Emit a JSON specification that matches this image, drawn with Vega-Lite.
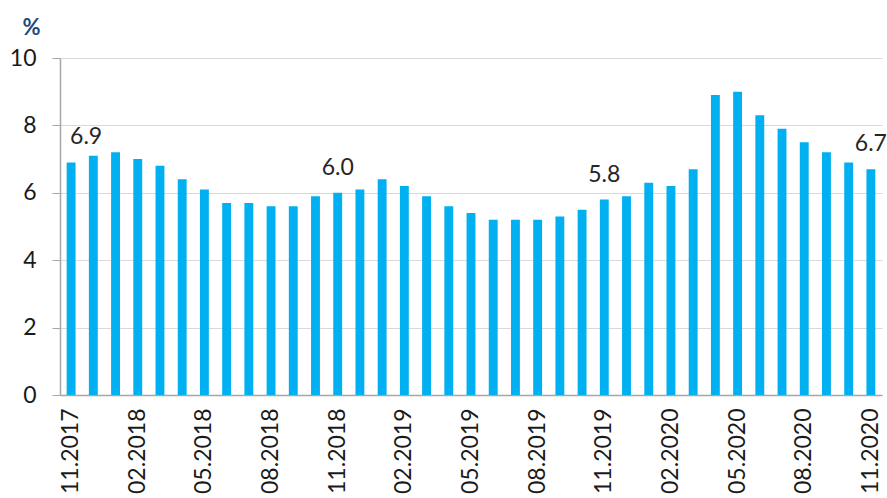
{
  "$schema": "https://vega.github.io/schema/vega-lite/v6.json",
  "autosize": {"type": "none"},
  "width": 822,
  "height": 337,
  "padding": {"left": 60, "top": 58, "right": 5, "bottom": 103},
  "background": "white",
  "config": {"view": {"stroke": null}, "font": "Lato"},
  "data": {
    "values": [
      {"month": "11.2017", "value": 6.9},
      {"month": "12.2017", "value": 7.1},
      {"month": "01.2018", "value": 7.2},
      {"month": "02.2018", "value": 7.0},
      {"month": "03.2018", "value": 6.8},
      {"month": "04.2018", "value": 6.4},
      {"month": "05.2018", "value": 6.1},
      {"month": "06.2018", "value": 5.7},
      {"month": "07.2018", "value": 5.7},
      {"month": "08.2018", "value": 5.6},
      {"month": "09.2018", "value": 5.6},
      {"month": "10.2018", "value": 5.9},
      {"month": "11.2018", "value": 6.0},
      {"month": "12.2018", "value": 6.1},
      {"month": "01.2019", "value": 6.4},
      {"month": "02.2019", "value": 6.2},
      {"month": "03.2019", "value": 5.9},
      {"month": "04.2019", "value": 5.6},
      {"month": "05.2019", "value": 5.4},
      {"month": "06.2019", "value": 5.2},
      {"month": "07.2019", "value": 5.2},
      {"month": "08.2019", "value": 5.2},
      {"month": "09.2019", "value": 5.3},
      {"month": "10.2019", "value": 5.5},
      {"month": "11.2019", "value": 5.8},
      {"month": "12.2019", "value": 5.9},
      {"month": "01.2020", "value": 6.3},
      {"month": "02.2020", "value": 6.2},
      {"month": "03.2020", "value": 6.7},
      {"month": "04.2020", "value": 8.9},
      {"month": "05.2020", "value": 9.0},
      {"month": "06.2020", "value": 8.3},
      {"month": "07.2020", "value": 7.9},
      {"month": "08.2020", "value": 7.5},
      {"month": "09.2020", "value": 7.2},
      {"month": "10.2020", "value": 6.9},
      {"month": "11.2020", "value": 6.7}
    ]
  },
  "encoding": {
    "x": {
      "field": "month",
      "type": "ordinal",
      "sort": null,
      "scale": {"paddingInner": 0.6, "paddingOuter": 0.3},
      "axis": {
        "title": null,
        "values": ["11.2017", "02.2018", "05.2018", "08.2018", "11.2018", "02.2019", "05.2019", "08.2019", "11.2019", "02.2020", "05.2020", "08.2020", "11.2020"],
        "labelAngle": -90,
        "labelAlign": "right",
        "labelBaseline": "middle",
        "labelPadding": 13,
        "labelFontSize": 23,
        "labelColor": "#1a1a1a",
        "ticks": false,
        "domainColor": "#a6a6a6",
        "domainWidth": 1.5,
        "labelOverlap": false,
        "labelBound": false
      }
    },
    "y": {
      "field": "value",
      "type": "quantitative",
      "scale": {"domain": [0, 10], "nice": false},
      "axis": {
        "values": [0, 2, 4, 6, 8, 10],
        "title": "%",
        "titleAngle": 0,
        "titleAlign": "center",
        "titleBaseline": "alphabetic",
        "titleX": -29,
        "titleY": -24,
        "titleFontSize": 22,
        "titleFontWeight": "bold",
        "titleColor": "#1f497d",
        "labelFontSize": 23,
        "labelColor": "#1a1a1a",
        "labelPadding": 16,
        "tickSize": 8,
        "tickColor": "#a6a6a6",
        "domainColor": "#a6a6a6",
        "domainWidth": 1.5,
        "gridColor": "#d9d9d9",
        "gridWidth": 1.2
      }
    }
  },
  "layer": [
    {"mark": {"type": "bar", "color": "#00b0f0"}},
    {
      "transform": [{"filter": "indexof(['11.2018','11.2019','11.2020'], datum.month) >= 0"}],
      "mark": {"type": "text", "baseline": "alphabetic", "dy": -18, "fontSize": 23, "color": "#262626"},
      "encoding": {"text": {"field": "value", "type": "quantitative", "format": ".1f"}}
    },
    {
      "transform": [{"filter": "datum.month == '11.2017'"}],
      "mark": {"type": "text", "baseline": "alphabetic", "dy": -18, "dx": 15, "fontSize": 23, "color": "#262626"},
      "encoding": {"text": {"field": "value", "type": "quantitative", "format": ".1f"}}
    }
  ]
}
